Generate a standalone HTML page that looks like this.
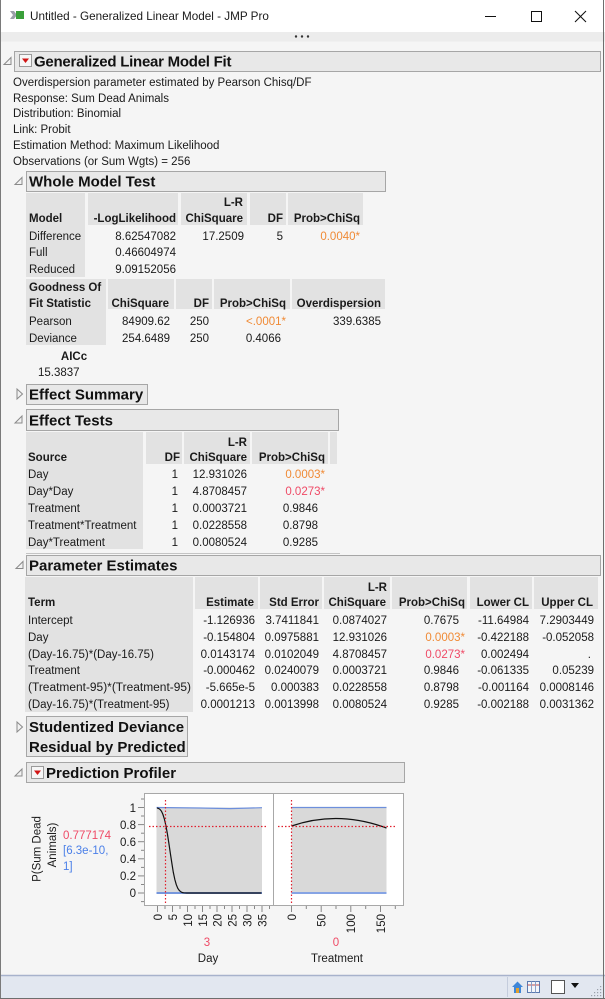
<!DOCTYPE html>
<html><head><meta charset="utf-8"><style>
html,body{margin:0;padding:0;background:#fff;}
svg{display:block;}
text{font-family:"Liberation Sans",Arial,sans-serif;font-size:11.5px;fill:#1a1a1a;}
.b{font-weight:bold;}
.h{font-weight:bold;font-size:15px;fill:#111;}
.e{text-anchor:end;}
.m{text-anchor:middle;}
.or{fill:#f08a35;}
.rd{fill:#ef4a66;}
.bl{fill:#4a7fe8;}
.c{fill:#e2e2e2;}
.hb{fill:#e8e8e8;stroke:#a6a6a6;stroke-width:1;}
.tri{fill:#f2f2f2;stroke:#8a8a8a;stroke-width:1;}
</style></head><body>
<svg width="605" height="999" viewBox="0 0 605 999" xmlns="http://www.w3.org/2000/svg">
<!-- backgrounds -->
<rect x="0" y="0" width="605" height="999" fill="#f5f5f5"/>
<rect x="0" y="0" width="605" height="32" fill="#ffffff"/>
<rect x="0" y="32" width="605" height="9.5" fill="#ececec"/>
<!-- title bar -->
<polygon points="10,11 14,11 17,15 14,19 10,19 13,15" fill="#9aa0a8"/>
<rect x="16" y="11" width="8" height="8" fill="#3aa03a"/>
<text x="30" y="20" style="font-size:11.7px">Untitled - Generalized Linear Model - JMP Pro</text>
<line x1="485" y1="16.5" x2="496" y2="16.5" stroke="#111" stroke-width="1"/>
<rect x="531.5" y="11.5" width="10" height="10" fill="none" stroke="#111" stroke-width="1"/>
<line x1="575" y1="11" x2="586" y2="22" stroke="#111" stroke-width="1.1"/>
<line x1="586" y1="11" x2="575" y2="22" stroke="#111" stroke-width="1.1"/>
<circle cx="296" cy="36.5" r="1.2" fill="#333"/>
<circle cx="302" cy="36.5" r="1.2" fill="#333"/>
<circle cx="308" cy="36.5" r="1.2" fill="#333"/>

<!-- main header -->
<polygon class="tri" points="11,57.5 11,64.5 4,64.5"/>
<rect class="hb" x="14.5" y="51.5" width="586" height="20"/>
<rect x="19.5" y="54.5" width="12" height="12" fill="#f6f6f6" stroke="#9a9a9a"/>
<polygon points="22,58.5 29,58.5 25.5,63" fill="#d11414"/>
<text class="h" x="34" y="66.5" style="letter-spacing:-0.25px">Generalized Linear Model Fit</text>

<text x="13" y="86">Overdispersion parameter estimated by Pearson Chisq/DF</text>
<text x="13" y="102">Response: Sum Dead Animals</text>
<text x="13" y="117">Distribution: Binomial</text>
<text x="13" y="133">Link: Probit</text>
<text x="13" y="149">Estimation Method: Maximum Likelihood</text>
<text x="13" y="165">Observations (or Sum Wgts) = 256</text>

<!-- Whole Model Test -->
<polygon class="tri" points="22,177.5 22,184.5 15,184.5"/>
<rect class="hb" x="26.5" y="171.5" width="359" height="20"/>
<text class="h" x="29" y="186.5">Whole Model Test</text>
<rect class="c" x="26" y="193" width="59" height="84"/>
<rect class="c" x="88" y="193" width="90" height="32"/>
<rect class="c" x="181" y="193" width="66" height="32"/>
<rect class="c" x="250" y="193" width="36" height="32"/>
<rect class="c" x="288" y="193" width="75" height="32"/>
<text class="b e" x="243" y="206">L-R</text>
<text class="b" x="29" y="222">Model</text>
<text class="b e" x="176" y="222">-LogLikelihood</text>
<text class="b e" x="243" y="222">ChiSquare</text>
<text class="b e" x="283" y="222">DF</text>
<text class="b e" x="360" y="222">Prob&gt;ChiSq</text>
<text x="29" y="240">Difference</text>
<text class="e" x="176" y="240">8.62547082</text>
<text class="e" x="244" y="240">17.2509</text>
<text class="e" x="283" y="240">5</text>
<text class="e or" x="360" y="240">0.0040*</text>
<text x="29" y="256">Full</text>
<text class="e" x="176" y="256">0.46604974</text>
<text x="29" y="273">Reduced</text>
<text class="e" x="176" y="273">9.09152056</text>

<rect class="c" x="26" y="279" width="80" height="66"/>
<rect class="c" x="108" y="279" width="66" height="30"/>
<rect class="c" x="176" y="279" width="36" height="30"/>
<rect class="c" x="214" y="279" width="76" height="30"/>
<rect class="c" x="292" y="279" width="93" height="30"/>
<text class="b" x="29" y="291">Goodness Of</text>
<text class="b" x="29" y="307">Fit Statistic</text>
<text class="b e" x="169" y="307">ChiSquare</text>
<text class="b e" x="209" y="307">DF</text>
<text class="b e" x="286" y="307">Prob&gt;ChiSq</text>
<text class="b e" x="381" y="307">Overdispersion</text>
<text x="29" y="325">Pearson</text>
<text class="e" x="170" y="325">84909.62</text>
<text class="e" x="209" y="325">250</text>
<text class="e or" x="286" y="325">&lt;.0001*</text>
<text class="e" x="381" y="325">339.6385</text>
<text x="29" y="342">Deviance</text>
<text class="e" x="170" y="342">254.6489</text>
<text class="e" x="209" y="342">250</text>
<text class="e" x="281" y="342">0.4066</text>
<text class="b m" x="74" y="360">AICc</text>
<text x="38" y="376">15.3837</text>

<!-- Effect Summary -->
<polygon class="tri" points="17,389 17,399 22.5,394"/>
<rect class="hb" x="26.5" y="384.5" width="121" height="20"/>
<text class="h" x="29" y="399.5">Effect Summary</text>

<!-- Effect Tests -->
<polygon class="tri" points="22,416 22,423 15,423"/>
<rect class="hb" x="26.5" y="409.5" width="312" height="21"/>
<text class="h" x="29" y="425.5">Effect Tests</text>
<rect class="c" x="26" y="432" width="117" height="117"/>
<rect class="c" x="146" y="432" width="36" height="32"/>
<rect class="c" x="184" y="432" width="66" height="32"/>
<rect class="c" x="252" y="432" width="76" height="32"/>
<rect class="c" x="330" y="432" width="7" height="32"/>
<text class="b e" x="247" y="446">L-R</text>
<text class="b" x="28" y="461">Source</text>
<text class="b e" x="180" y="461">DF</text>
<text class="b e" x="247" y="461">ChiSquare</text>
<text class="b e" x="325" y="461">Prob&gt;ChiSq</text>
<text x="28" y="478">Day</text><text class="e" x="178" y="478">1</text><text class="e" x="247" y="478">12.931026</text><text class="e or" x="325" y="478">0.0003*</text>
<text x="28" y="495">Day*Day</text><text class="e" x="178" y="495">1</text><text class="e" x="247" y="495">4.8708457</text><text class="e rd" x="325" y="495">0.0273*</text>
<text x="28" y="512">Treatment</text><text class="e" x="178" y="512">1</text><text class="e" x="247" y="512">0.0003721</text><text class="e" x="318" y="512">0.9846</text>
<text x="28" y="529">Treatment*Treatment</text><text class="e" x="178" y="529">1</text><text class="e" x="247" y="529">0.0228558</text><text class="e" x="318" y="529">0.8798</text>
<text x="28" y="546">Day*Treatment</text><text class="e" x="178" y="546">1</text><text class="e" x="247" y="546">0.0080524</text><text class="e" x="318" y="546">0.9285</text>
<line x1="26" y1="553.5" x2="340" y2="553.5" stroke="#c4c4c4"/>

<!-- Parameter Estimates -->
<polygon class="tri" points="23,561.5 23,568.5 16,568.5"/>
<rect class="hb" x="26.5" y="555.5" width="574" height="20"/>
<text class="h" x="29" y="570.5">Parameter Estimates</text>
<rect class="c" x="25" y="577" width="168" height="135"/>
<rect class="c" x="195" y="577" width="63" height="32"/>
<rect class="c" x="260" y="577" width="62" height="32"/>
<rect class="c" x="324" y="577" width="66" height="32"/>
<rect class="c" x="392" y="577" width="75" height="32"/>
<rect class="c" x="470" y="577" width="62" height="32"/>
<rect class="c" x="534" y="577" width="64" height="32"/>
<text class="b e" x="387" y="591">L-R</text>
<text class="b" x="28" y="606">Term</text>
<text class="b e" x="254" y="606">Estimate</text>
<text class="b e" x="319" y="606">Std Error</text>
<text class="b e" x="386" y="606">ChiSquare</text>
<text class="b e" x="465" y="606">Prob&gt;ChiSq</text>
<text class="b e" x="529" y="606">Lower CL</text>
<text class="b e" x="593" y="606">Upper CL</text>

<text x="28" y="624">Intercept</text>
<text class="e" x="255" y="624">-1.126936</text><text class="e" x="319" y="624">3.7411841</text><text class="e" x="387" y="624">0.0874027</text><text class="e" x="459" y="624">0.7675</text><text class="e" x="529" y="624">-11.64984</text><text class="e" x="594" y="624">7.2903449</text>
<text x="28" y="641">Day</text>
<text class="e" x="255" y="641">-0.154804</text><text class="e" x="319" y="641">0.0975881</text><text class="e" x="387" y="641">12.931026</text><text class="e or" x="465" y="641">0.0003*</text><text class="e" x="529" y="641">-0.422188</text><text class="e" x="594" y="641">-0.052058</text>
<text x="28" y="658">(Day-16.75)*(Day-16.75)</text>
<text class="e" x="255" y="658">0.0143174</text><text class="e" x="319" y="658">0.0102049</text><text class="e" x="387" y="658">4.8708457</text><text class="e rd" x="465" y="658">0.0273*</text><text class="e" x="529" y="658">0.002494</text><text class="e" x="591" y="658">.</text>
<text x="28" y="674">Treatment</text>
<text class="e" x="255" y="674">-0.000462</text><text class="e" x="319" y="674">0.0240079</text><text class="e" x="387" y="674">0.0003721</text><text class="e" x="459" y="674">0.9846</text><text class="e" x="529" y="674">-0.061335</text><text class="e" x="594" y="674">0.05239</text>
<text x="28" y="691" textLength="163" lengthAdjust="spacingAndGlyphs">(Treatment-95)*(Treatment-95)</text>
<text class="e" x="255" y="691">-5.665e-5</text><text class="e" x="319" y="691">0.000383</text><text class="e" x="387" y="691">0.0228558</text><text class="e" x="459" y="691">0.8798</text><text class="e" x="529" y="691">-0.001164</text><text class="e" x="594" y="691">0.0008146</text>
<text x="28" y="708">(Day-16.75)*(Treatment-95)</text>
<text class="e" x="255" y="708">0.0001213</text><text class="e" x="319" y="708">0.0013998</text><text class="e" x="387" y="708">0.0080524</text><text class="e" x="459" y="708">0.9285</text><text class="e" x="529" y="708">-0.002188</text><text class="e" x="594" y="708">0.0031362</text>

<!-- Studentized -->
<polygon class="tri" points="17,722 17,732 22.5,727"/>
<rect class="hb" x="26.5" y="716.5" width="161" height="40"/>
<text class="h" x="29" y="732">Studentized Deviance</text>
<text class="h" x="29" y="752">Residual by Predicted</text>

<!-- Prediction Profiler -->
<polygon class="tri" points="22,769 22,776 15,776"/>
<rect class="hb" x="26.5" y="762.5" width="378" height="20"/>
<rect x="31.5" y="766.5" width="12" height="12" fill="#f6f6f6" stroke="#9a9a9a"/>
<polygon points="34,770.5 41,770.5 37.5,775" fill="#d11414"/>
<text class="h" x="46" y="778">Prediction Profiler</text>

<!-- plot frames -->
<rect x="144.5" y="793.5" width="259" height="112" fill="#ffffff" stroke="#a8a8a8"/>
<line x1="273.5" y1="793.5" x2="273.5" y2="905.5" stroke="#a8a8a8"/>
<!-- gray bands -->
<rect x="156.5" y="807.5" width="105.5" height="85.5" fill="#d9d9d9"/>
<rect x="291.5" y="807.5" width="95" height="85.5" fill="#d9d9d9"/>
<!-- blue CI lines -->
<path d="M156.5,807.5 L200,808 L230,808.6 L262,807.7" fill="none" stroke="#6d8fdc" stroke-width="1.2"/>
<line x1="156.5" y1="893" x2="262" y2="893" stroke="#7596dc" stroke-width="2"/>
<line x1="291.5" y1="807.5" x2="386.5" y2="807.5" stroke="#6d8fdc" stroke-width="1.2"/>
<line x1="291.5" y1="893" x2="386.5" y2="893" stroke="#86a4e4" stroke-width="2"/>
<!-- curves -->
<polyline fill="none" stroke="#111" stroke-width="1.2" points="157,807.9 158.5,808.4 160,809.4 161.5,811.3 162.9,814.4 164.4,819.1 165.9,825.6 167.4,833.9 168.9,843.5 170.4,853.7 171.9,863.5 173.3,872.3 174.8,879.4 176.3,884.7 177.8,888.3 179.3,890.5 180.8,891.8 182.2,892.5 183.7,892.8 186.7,893 261.5,893"/>
<path d="M291.5,826 Q338,810 386.5,828" fill="none" stroke="#111" stroke-width="1.3"/>
<!-- red dotted refs -->
<g stroke="#e0202e" stroke-width="1.2" stroke-dasharray="1.5,2" fill="none">
<line x1="165.5" y1="800" x2="165.5" y2="903"/>
<line x1="149" y1="826.5" x2="268" y2="826.5"/>
<line x1="291.5" y1="800" x2="291.5" y2="903"/>
<line x1="278" y1="826.5" x2="397" y2="826.5"/>
</g>
<!-- y ticks -->
<g stroke="#888" stroke-width="1">
<line x1="138" y1="807.5" x2="144" y2="807.5"/>
<line x1="138" y1="824.6" x2="144" y2="824.6"/>
<line x1="138" y1="841.7" x2="144" y2="841.7"/>
<line x1="138" y1="858.8" x2="144" y2="858.8"/>
<line x1="138" y1="875.9" x2="144" y2="875.9"/>
<line x1="138" y1="893" x2="144" y2="893"/>
<line x1="141" y1="799" x2="144" y2="799"/>
<line x1="141" y1="816" x2="144" y2="816"/>
<line x1="141" y1="833.2" x2="144" y2="833.2"/>
<line x1="141" y1="850.3" x2="144" y2="850.3"/>
<line x1="141" y1="867.4" x2="144" y2="867.4"/>
<line x1="141" y1="884.5" x2="144" y2="884.5"/>
<line x1="141" y1="901.6" x2="144" y2="901.6"/>
</g>
<text class="e" x="136" y="812">1</text>
<text class="e" x="136" y="829">0.8</text>
<text class="e" x="136" y="846">0.6</text>
<text class="e" x="136" y="863">0.4</text>
<text class="e" x="136" y="880">0.2</text>
<text class="e" x="136" y="897">0</text>
<!-- x ticks left (Day) -->
<g stroke="#888" stroke-width="1">
<line x1="157.5" y1="906" x2="157.5" y2="912"/><line x1="165" y1="906" x2="165" y2="909"/>
<line x1="172.5" y1="906" x2="172.5" y2="912"/><line x1="180" y1="906" x2="180" y2="909"/>
<line x1="187.5" y1="906" x2="187.5" y2="912"/><line x1="195" y1="906" x2="195" y2="909"/>
<line x1="202.5" y1="906" x2="202.5" y2="912"/><line x1="210" y1="906" x2="210" y2="909"/>
<line x1="217" y1="906" x2="217" y2="912"/><line x1="224.5" y1="906" x2="224.5" y2="909"/>
<line x1="232" y1="906" x2="232" y2="912"/><line x1="239.5" y1="906" x2="239.5" y2="909"/>
<line x1="247" y1="906" x2="247" y2="912"/><line x1="254.5" y1="906" x2="254.5" y2="909"/>
<line x1="262" y1="906" x2="262" y2="912"/><line x1="269.5" y1="906" x2="269.5" y2="909"/>
<!-- right (Treatment) -->
<line x1="291.5" y1="906" x2="291.5" y2="912"/><line x1="306.3" y1="906" x2="306.3" y2="909"/>
<line x1="321.2" y1="906" x2="321.2" y2="912"/><line x1="336" y1="906" x2="336" y2="909"/>
<line x1="350.8" y1="906" x2="350.8" y2="912"/><line x1="365.7" y1="906" x2="365.7" y2="909"/>
<line x1="380.5" y1="906" x2="380.5" y2="912"/><line x1="395.3" y1="906" x2="395.3" y2="909"/>
</g>
<text class="e" transform="translate(162,914) rotate(-90)">0</text>
<text class="e" transform="translate(177,914) rotate(-90)">5</text>
<text class="e" transform="translate(192,914) rotate(-90)">10</text>
<text class="e" transform="translate(207,914) rotate(-90)">15</text>
<text class="e" transform="translate(221.5,914) rotate(-90)">20</text>
<text class="e" transform="translate(236.5,914) rotate(-90)">25</text>
<text class="e" transform="translate(251.5,914) rotate(-90)">30</text>
<text class="e" transform="translate(266.5,914) rotate(-90)">35</text>
<text class="e" transform="translate(296,914) rotate(-90)">0</text>
<text class="e" transform="translate(325.5,914) rotate(-90)">50</text>
<text class="e" transform="translate(355,914) rotate(-90)">100</text>
<text class="e" transform="translate(385,914) rotate(-90)">150</text>
<text class="m rd" x="207" y="946">3</text>
<text class="m rd" x="336" y="946">0</text>
<text class="m" x="208" y="962">Day</text>
<text class="m" x="337" y="962">Treatment</text>
<!-- y label & values -->
<text class="m" transform="translate(40.5,849) rotate(-90)">P(Sum Dead</text>
<text class="m" transform="translate(56,845) rotate(-90)">Animals)</text>
<text class="rd" x="63" y="839">0.777174</text>
<text class="bl" x="63" y="854">[6.3e-10,</text>
<text class="bl" x="63" y="870">1]</text>

<!-- status bar -->
<rect x="0" y="975" width="605" height="24" fill="#e2e7f0"/>
<line x1="0" y1="975.5" x2="605" y2="975.5" stroke="#a7b2cc" stroke-width="1.5"/>
<line x1="507.5" y1="977" x2="507.5" y2="997" stroke="#c4ccdc"/>
<polygon points="512,987 517.5,981.5 523,987 521,987 521,993 514,993 514,987" fill="#3f86d8"/>
<rect x="516" y="988" width="3" height="5" fill="#e0a030"/>
<rect x="527.5" y="981.5" width="12" height="11" fill="#f4f6fa" stroke="#5a7ab0"/>
<line x1="527.5" y1="985" x2="539.5" y2="985" stroke="#c05050"/>
<line x1="531.5" y1="981.5" x2="531.5" y2="992.5" stroke="#8aa0c8"/>
<line x1="535.5" y1="981.5" x2="535.5" y2="992.5" stroke="#8aa0c8"/>
<rect x="551.5" y="980.5" width="13" height="13" fill="#ffffff" stroke="#555"/>
<polygon points="571,983 579,983 575,988" fill="#111"/>
<g fill="#9aa0aa">
<rect x="600" y="986" width="1.2" height="1.2"/><rect x="597" y="989" width="1.2" height="1.2"/><rect x="600" y="989" width="1.2" height="1.2"/>
<rect x="594" y="992" width="1.2" height="1.2"/><rect x="597" y="992" width="1.2" height="1.2"/><rect x="600" y="992" width="1.2" height="1.2"/>
<rect x="591" y="995" width="1.2" height="1.2"/><rect x="594" y="995" width="1.2" height="1.2"/><rect x="597" y="995" width="1.2" height="1.2"/><rect x="600" y="995" width="1.2" height="1.2"/>
</g>
<!-- window border -->
<line x1="0.5" y1="0" x2="0.5" y2="999" stroke="#7a7a7a"/>
<line x1="603.5" y1="0" x2="603.5" y2="999" stroke="#6e6e6e"/>
<line x1="0" y1="998.5" x2="605" y2="998.5" stroke="#6e6e6e"/>
</svg>
</body></html>
